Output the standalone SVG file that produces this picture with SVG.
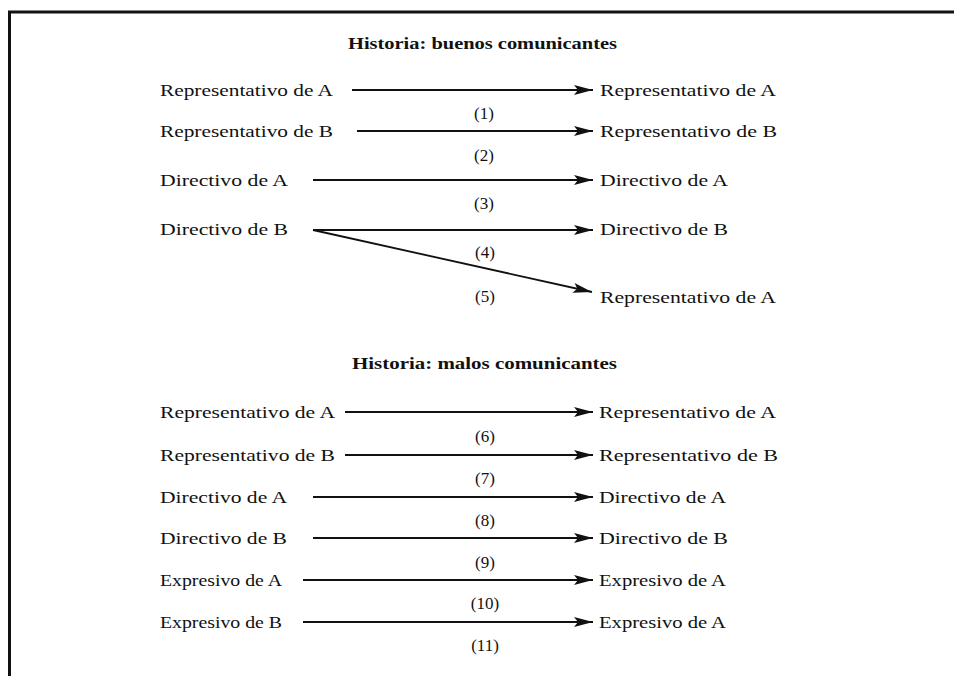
<svg xmlns="http://www.w3.org/2000/svg" width="954" height="676" viewBox="0 0 954 676">
<style>
.t{font-family:"Liberation Serif","Times New Roman",serif;font-size:17px;fill:#111}
.h{font-family:"Liberation Serif","Times New Roman",serif;font-size:17px;font-weight:bold;fill:#111}
.n{font-family:"Liberation Serif","Times New Roman",serif;font-size:17px;fill:#111;text-anchor:middle}
.c{stroke:#111;stroke-width:1.8;fill:none;marker-end:url(#ah)}
</style>
<defs>
<marker id="ah" markerUnits="userSpaceOnUse" markerWidth="20" markerHeight="12" viewBox="0 0 20 12" refX="19" refY="6" orient="auto">
<path d="M0,1 L19,6 L0,11 L4,6 Z" fill="#111"/>
</marker>
</defs>
<rect width="954" height="676" fill="#fff"/>
<g id="frame">
<line x1="8" y1="12" x2="954" y2="12" stroke="#111" stroke-width="3"/>
<line x1="9.5" y1="11" x2="9.5" y2="676" stroke="#111" stroke-width="3"/>
</g>
<g id="titles">
<text id="title1" class="h" x="348" y="49" textLength="269" lengthAdjust="spacingAndGlyphs">Historia: buenos comunicantes</text>
<text id="title2" class="h" x="352" y="369" textLength="265" lengthAdjust="spacingAndGlyphs">Historia: malos comunicantes</text>
</g>
<g id="connectors">
<line class="c" x1="352" y1="90" x2="593" y2="90"/>
<line class="c" x1="357" y1="131" x2="593" y2="131"/>
<line class="c" x1="313" y1="180" x2="593" y2="180"/>
<line class="c" x1="313" y1="230" x2="593" y2="230"/>
<line class="c" x1="313" y1="230" x2="592" y2="292"/>
<line class="c" x1="345" y1="412" x2="593" y2="412"/>
<line class="c" x1="345" y1="455" x2="593" y2="455"/>
<line class="c" x1="313" y1="497" x2="593" y2="497"/>
<line class="c" x1="313" y1="538" x2="593" y2="538"/>
<line class="c" x1="303" y1="580" x2="593" y2="580"/>
<line class="c" x1="303" y1="622" x2="593" y2="622"/>
</g>
<g id="labels">
<text class="n" x="484" y="119">(1)</text>
<text class="n" x="484" y="161">(2)</text>
<text class="n" x="484" y="209">(3)</text>
<text class="n" x="485" y="258">(4)</text>
<text class="n" x="485" y="302">(5)</text>
<text class="n" x="485" y="442">(6)</text>
<text class="n" x="485" y="484">(7)</text>
<text class="n" x="485" y="526">(8)</text>
<text class="n" x="485" y="568">(9)</text>
<text class="n" x="485" y="609">(10)</text>
<text class="n" x="485" y="651">(11)</text>
</g>
<g id="n1"><text class="t" x="160" y="96" textLength="173" lengthAdjust="spacingAndGlyphs">Representativo de A</text></g>
<g id="n2"><text class="t" x="600" y="96" textLength="176" lengthAdjust="spacingAndGlyphs">Representativo de A</text></g>
<g id="n3"><text class="t" x="160" y="137" textLength="173" lengthAdjust="spacingAndGlyphs">Representativo de B</text></g>
<g id="n4"><text class="t" x="600" y="137" textLength="177" lengthAdjust="spacingAndGlyphs">Representativo de B</text></g>
<g id="n5"><text class="t" x="160" y="186" textLength="128" lengthAdjust="spacingAndGlyphs">Directivo de A</text></g>
<g id="n6"><text class="t" x="600" y="186" textLength="128" lengthAdjust="spacingAndGlyphs">Directivo de A</text></g>
<g id="n7"><text class="t" x="160" y="235" textLength="128" lengthAdjust="spacingAndGlyphs">Directivo de B</text></g>
<g id="n8"><text class="t" x="600" y="235" textLength="128" lengthAdjust="spacingAndGlyphs">Directivo de B</text></g>
<g id="n9"><text class="t" x="600" y="303" textLength="176" lengthAdjust="spacingAndGlyphs">Representativo de A</text></g>
<g id="n10"><text class="t" x="160" y="418" textLength="175" lengthAdjust="spacingAndGlyphs">Representativo de A</text></g>
<g id="n11"><text class="t" x="599" y="418" textLength="177" lengthAdjust="spacingAndGlyphs">Representativo de A</text></g>
<g id="n12"><text class="t" x="160" y="461" textLength="175" lengthAdjust="spacingAndGlyphs">Representativo de B</text></g>
<g id="n13"><text class="t" x="599" y="461" textLength="179" lengthAdjust="spacingAndGlyphs">Representativo de B</text></g>
<g id="n14"><text class="t" x="160" y="503" textLength="127" lengthAdjust="spacingAndGlyphs">Directivo de A</text></g>
<g id="n15"><text class="t" x="599" y="503" textLength="127" lengthAdjust="spacingAndGlyphs">Directivo de A</text></g>
<g id="n16"><text class="t" x="160" y="544" textLength="127" lengthAdjust="spacingAndGlyphs">Directivo de B</text></g>
<g id="n17"><text class="t" x="599" y="544" textLength="129" lengthAdjust="spacingAndGlyphs">Directivo de B</text></g>
<g id="n18"><text class="t" x="160" y="586" textLength="122" lengthAdjust="spacingAndGlyphs">Expresivo de A</text></g>
<g id="n19"><text class="t" x="599" y="586" textLength="127" lengthAdjust="spacingAndGlyphs">Expresivo de A</text></g>
<g id="n20"><text class="t" x="160" y="628" textLength="122" lengthAdjust="spacingAndGlyphs">Expresivo de B</text></g>
<g id="n21"><text class="t" x="599" y="628" textLength="127" lengthAdjust="spacingAndGlyphs">Expresivo de A</text></g>
</svg>
